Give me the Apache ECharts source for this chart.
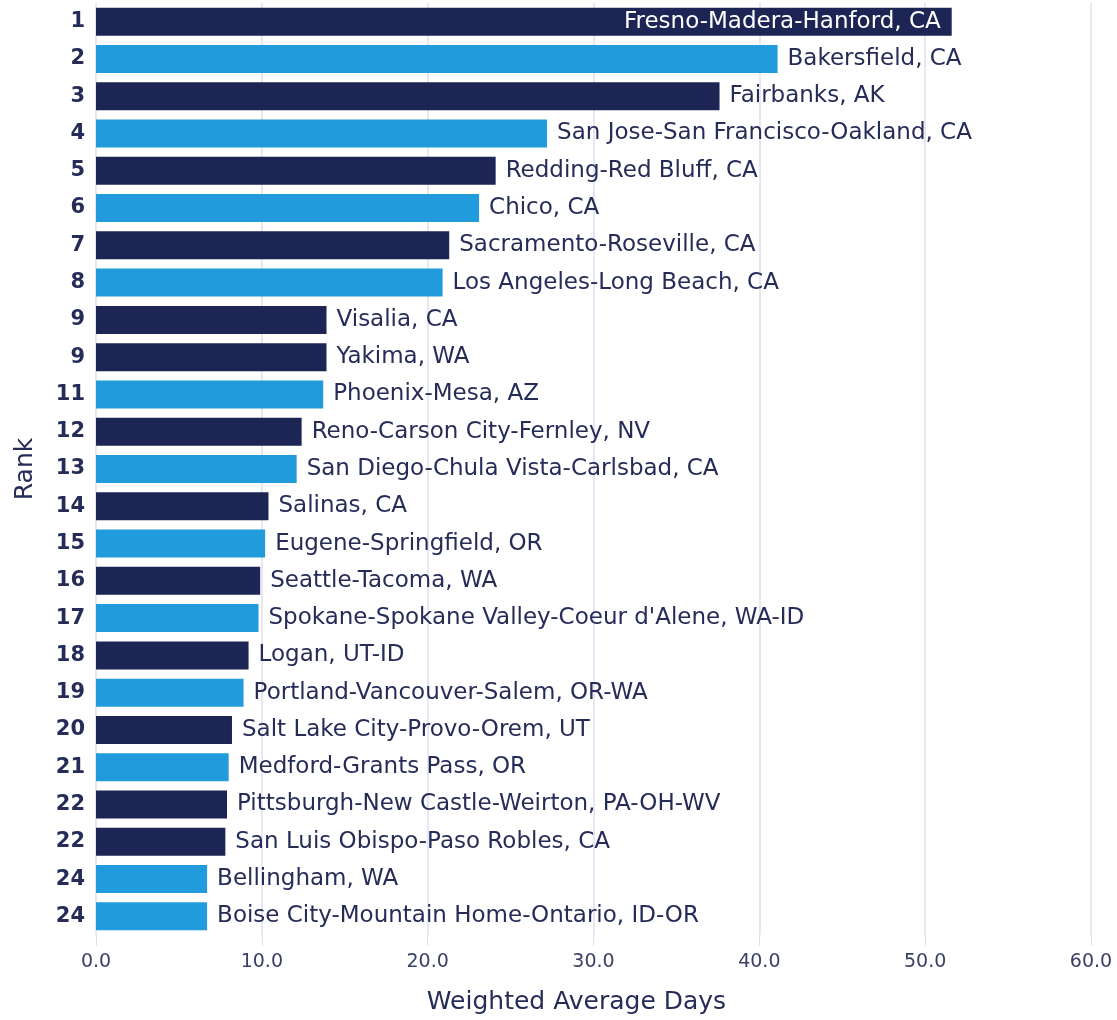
<!DOCTYPE html>
<html>
<head>
<meta charset="utf-8">
<script src="https://cdn.jsdelivr.net/npm/echarts@6/dist/echarts.min.js"></script>
<style>
  html, body { margin: 0; padding: 0; background: #fff; }
  #main { width: 1117px; height: 1020px; }
</style>
</head>
<body>
<div id="main"></div>
<script>
// metro areas, top to bottom
var cities = [
  "Fresno-Madera-Hanford, CA", "Bakersfield, CA", "Fairbanks, AK",
  "San Jose-San Francisco-Oakland, CA", "Redding-Red Bluff, CA", "Chico, CA",
  "Sacramento-Roseville, CA", "Los Angeles-Long Beach, CA", "Visalia, CA",
  "Yakima, WA", "Phoenix-Mesa, AZ", "Reno-Carson City-Fernley, NV",
  "San Diego-Chula Vista-Carlsbad, CA", "Salinas, CA", "Eugene-Springfield, OR",
  "Seattle-Tacoma, WA", "Spokane-Spokane Valley-Coeur d'Alene, WA-ID",
  "Logan, UT-ID", "Portland-Vancouver-Salem, OR-WA",
  "Salt Lake City-Provo-Orem, UT", "Medford-Grants Pass, OR",
  "Pittsburgh-New Castle-Weirton, PA-OH-WV", "San Luis Obispo-Paso Robles, CA",
  "Bellingham, WA", "Boise City-Mountain Home-Ontario, ID-OR"
];
var ranks = ["1", "2", "3", "4", "5", "6", "7", "8", "9", "9", "11", "12", "13",
  "14", "15", "16", "17", "18", "19", "20", "21", "22", "22", "24", "24"];
var days = [51.6, 41.1, 37.6, 27.2, 24.1, 23.1, 21.3, 20.9, 13.9, 13.9, 13.7,
  12.4, 12.1, 10.4, 10.2, 9.9, 9.8, 9.2, 8.9, 8.2, 8.0, 7.9, 7.8, 6.7, 6.7];
var shade = ["d", "l", "d", "l", "d", "l", "d", "l", "d", "d", "l", "d", "l",
  "d", "l", "d", "l", "d", "l", "d", "l", "d", "d", "l", "l"];
var xTicks = [0, 10, 20, 30, 40, 50, 60];

var DARK = "#1c2553";
var LIGHT = "#219bdc";
var TEXT = "#252c58";
var GRID = "#dfdff1";
var FONT = "DejaVu Sans";

var chart = echarts.init(document.getElementById("main"));

var barData = days.map(function (v, i) {
  var item = {
    value: v,
    itemStyle: { color: shade[i] === "d" ? DARK : LIGHT }
  };
  // the longest bar carries its label inside
  if (i === 0) {
    item.label = { position: "insideRight", color: "#fff", distance: 11 };
  }
  return item;
});

chart.setOption({
  animation: false,
  grid: { left: 96, right: 26, top: 3, height: 936 },
  xAxis: {
    type: "value",
    min: xTicks[0],
    max: xTicks[xTicks.length - 1],
    interval: 10,
    name: "Weighted Average Days",
    nameLocation: "middle",
    nameGap: 55,
    nameTextStyle: { fontFamily: FONT, fontSize: 25, color: TEXT, padding: [0, 34, 0, 0] },
    axisLine: { show: false },
    axisTick: { show: true, length: 11, lineStyle: { color: GRID } },
    splitLine: { show: true, lineStyle: { color: GRID, width: 1.5 } },
    axisLabel: {
      margin: 18,
      fontFamily: FONT,
      fontSize: 19,
      color: "#3a4068",
      formatter: function (v) { return v.toFixed(1); }
    }
  },
  yAxis: {
    type: "category",
    inverse: true,
    data: cities,
    name: "Rank",
    nameLocation: "middle",
    nameRotate: 90,
    nameGap: 58,
    nameTextStyle: { fontFamily: FONT, fontSize: 25, color: TEXT },
    axisLine: { show: false },
    axisTick: { show: false },
    axisLabel: {
      margin: 11,
      fontFamily: FONT,
      fontSize: 21,
      fontWeight: "bold",
      color: TEXT,
      formatter: function (v, i) { return ranks[i]; }
    }
  },
  series: [{
    type: "bar",
    data: barData,
    barWidth: 28,
    label: {
      show: true,
      position: "right",
      distance: 10,
      formatter: "{b}",
      fontFamily: FONT,
      fontSize: 23,
      color: TEXT
    }
  }]
});
</script>
</body>
</html>
